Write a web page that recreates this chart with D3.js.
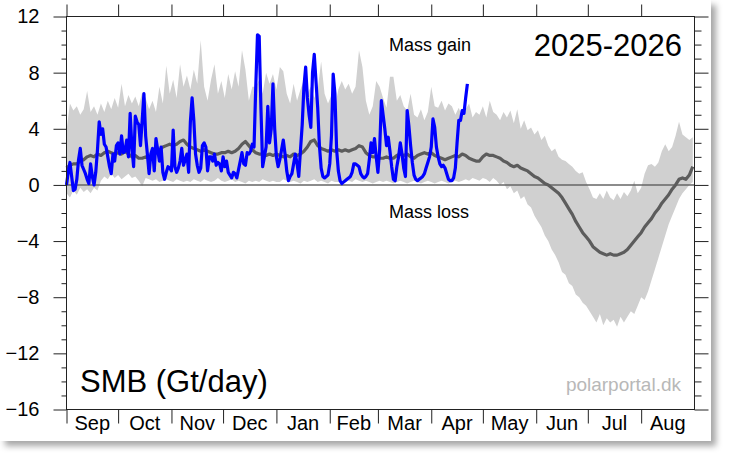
<!DOCTYPE html>
<html>
<head>
<meta charset="utf-8">
<script src="https://cdn.jsdelivr.net/npm/d3@7"></script>
<style>
  body { margin: 0; background: #fff; }
  svg { display: block; font-family: "Liberation Sans", Arial, Helvetica, sans-serif; }
</style>
</head>
<body>
<div id="chart"></div>
<script>
// month labels and y ticks
const months = ["Sep", "Oct", "Nov", "Dec", "Jan", "Feb", "Mar", "Apr", "May", "Jun", "Jul", "Aug"];
const yTicks = [-16, -12, -8, -4, 0, 4, 8, 12];

// climatology, one value every 2 days from 1 Sep (Gt/day)
const climStep = 2;
const bandUpper = [
  3.9, 5.8, 5.3, 5.6, 5.0,  5.4, 6.7, 5.2, 5.6, 5.0,  5.8, 5.2, 6.0, 5.4, 6.2,
  5.5, 7.2, 5.6, 6.4, 5.8,  6.3, 5.6, 6.6, 6.2, 5.4,  6.0, 5.2, 7.0, 5.8, 8.5,
  6.5, 7.5, 6.2, 8.6, 7.0,  7.8, 6.8, 8.2, 7.2, 10.3, 7.0, 6.0, 7.5, 8.6, 6.5,
  7.4, 6.2, 7.9, 6.8, 8.1,  7.0, 9.6, 8.2, 6.0, 7.0,  7.0, 7.5, 6.5, 8.0, 7.2,
  7.9, 6.8, 8.4, 8.1, 6.5,  5.8, 7.2, 6.0, 6.8, 7.5,  6.5, 7.0, 6.2, 6.8, 8.8,
  6.5, 5.8, 6.4, 5.5, 6.8,  7.4, 6.8, 7.2, 6.5, 7.0,  9.6, 8.4, 6.0, 5.0, 5.6,
  7.4, 7.0, 6.2, 5.5, 7.7,  7.7, 6.0, 6.4, 5.6, 5.3,  6.5, 5.0, 4.8, 5.4, 4.6,
  5.2, 7.0, 5.6, 5.5, 6.0,  5.3, 5.8, 5.6, 5.0, 5.5,  4.8, 5.4, 5.8, 4.8, 5.2,
  5.0, 5.6, 4.8, 6.0, 5.2,  5.0, 4.6, 5.2, 4.8, 5.3,  4.4, 5.4, 4.0, 4.6, 3.9,
  4.1, 3.6, 3.9, 3.2, 3.5,  2.8, 2.4, 2.6, 2.0, 1.8,  1.7, 1.5, 1.3, 1.0, 0.8,
  0.9, 0.2, -0.3, -0.9, -1.0, -0.6, -1.0, -0.4, -0.9, -1.1, -0.6, -1.0, -0.5, -0.8, -0.4,
  0.3, -0.6, -0.2, 0.8, 1.4, 1.5, 1.3, 1.6, 2.4, 2.9,  2.4, 2.7, 3.5, 4.5, 3.6,
  3.4, 3.2, 3.4
];
const bandLower = [
  -0.6, -0.9, -0.4, -0.7, -0.2, -0.5, -0.3, -0.6, -0.2, -0.4, 0.3, 0.6, 0.4, 0.8, 0.5,
  0.7, 0.4, 0.6, 0.8, 0.5,  0.6, 0.3, -0.1, 0.5, 0.4,  0.3, 0.4, 0.2, 0.3, 0.4,
  0.3, 0.2, 0.4, 0.3, 0.2,  0.3, 0.2, 0.4, 0.3, 0.2,  0.4, 0.3, 0.2, 0.3, 0.5,
  0.3, 0.2, 0.3, 0.4, 0.2,  0.3, 0.2, 0.1, 0.3, 0.2,  0.3, 0.2, 0.4, 0.3, 0.2,
  0.3, 0.2, 0.2, 0.4, 0.3,  0.2, 0.3, 0.2, 0.1, 0.3,  0.2, 0.3, 0.4, 0.2, 0.3,
  0.2, 0.1, 0.3, 0.2, 0.2,  0.1, 0.2, 0.3, 0.2, 0.4,  0.3, 0.2, 0.3, 0.2, 0.1,
  0.2, 0.3, 0.2, 0.3, 0.2,  0.1, 0.2, 0.3, 0.2, 0.1,  0.2, 0.3, 0.2, 0.1, 0.2,
  0.3, 0.2, 0.1, 0.2, 0.3,  0.2, 0.1, 0.2, 0.3, 0.2,  0.3, 0.4, 0.3, 0.5, 0.4,
  0.3, 0.5, 0.4, 0.2, 0.5,  0.3, 0.0, 0.2, -0.3, -0.1, -0.6, -0.4, -1.0, -0.8, -1.4,
  -1.6, -2.2, -2.6, -3.0, -3.6, -4.0, -4.6, -5.0, -5.5, -6.2, -6.4, -7.0, -7.2, -7.8, -8.0,
  -8.4, -8.6, -9.0, -9.4, -9.8, -9.2, -10.0, -9.5, -9.8, -9.6, -10.1, -9.4, -9.8, -9.4, -9.0,
  -9.2, -8.6, -8.0, -8.2, -7.6, -6.8, -6.0, -5.2, -4.4, -3.6, -2.8, -2.2, -1.6, -1.0, -0.6,
  -0.3, 0.0, 0.2
];
const meanSmb = [
  1.2, 1.4, 1.5, 1.5, 1.7,  1.8, 2.0, 2.1, 2.0, 2.2,  2.1, 2.3, 2.4, 2.3, 2.2,
  2.3, 2.2, 2.4, 2.2, 2.0,  2.1, 1.9, 1.9, 2.0, 1.9,  2.2, 2.3, 2.5, 2.7, 2.8,
  2.9, 2.8, 2.9, 3.1, 3.2,  2.9, 2.7, 2.6, 2.5, 2.4,  2.5, 2.4, 2.3, 2.2, 2.2,
  2.3, 2.3, 2.4, 2.3, 2.4,  2.6, 2.9, 3.1, 2.8, 2.5,  2.3, 2.2, 2.2, 2.1, 2.2,
  2.1, 2.2, 2.1, 2.0, 2.1,  2.0, 2.2, 2.1, 2.2, 2.4,  2.7, 3.1, 3.2, 2.8, 2.6,
  2.5, 2.4, 2.5, 2.4, 2.5,  2.4, 2.5, 2.4, 2.5, 2.6,  2.8, 2.7, 2.3, 2.1, 2.0,
  2.0, 1.9, 1.9, 2.0, 1.9,  1.9, 2.1, 2.2, 2.1, 2.2,  2.0, 1.9, 2.1, 2.2, 2.3,
  2.2, 2.3, 2.1, 2.0, 1.9,  1.8, 1.9, 2.0, 2.1, 2.0,  2.2, 2.1, 1.9, 1.8, 1.7,
  1.7, 2.0, 2.2, 2.1, 2.1,  2.0, 1.9, 1.7, 1.6, 1.4,  1.3, 1.4, 1.2, 1.1, 1.0,
  0.8, 0.6, 0.5, 0.3, 0.1,  0.0, -0.2, -0.4, -0.6, -0.9, -1.3, -1.7, -2.1, -2.6, -3.0,
  -3.4, -3.7, -4.0, -4.4, -4.6, -4.8, -4.9, -5.0, -4.9, -5.0, -5.0, -4.9, -4.8, -4.6, -4.3,
  -4.0, -3.7, -3.4, -3.0, -2.7, -2.4, -2.0, -1.7, -1.3, -1.0, -0.7, -0.3, 0.0, 0.4, 0.5,
  0.4, 0.7, 1.3
];

// 2025-2026 season, daily from 1 Sep (Gt/day)
const smb2025 = [
  0.0, 0.9, 1.6, 0.6, -0.4, -0.3, 0.4, 1.8, 2.6, 1.4,
  1.1, 0.8, 0.4, 0.1, 1.5, 0.6, 0.0, 0.9, 2.5, 4.5,
  3.6, 4.0, 2.9, 2.7, 2.0, 1.3, 0.8, 2.2, 1.7, 2.8,
  3.0, 2.2, 3.5, 2.3, 2.4, 3.2, 2.0, 5.1, 2.7, 1.3,
  4.9, 4.5, 4.3, 2.8, 4.6, 6.5, 3.5, 2.2, 0.8, 2.2,
  2.6, 1.0, 3.3, 2.5, 1.7, 2.7, 0.9, 0.4, 0.9, 1.3,
  1.2, 1.0, 3.9, 1.3, 0.9, 1.2, 1.7, 2.6, 1.4, 1.8,
  2.2, 0.9, 4.5, 6.2, 4.6, 2.2, 1.4, 0.9, 1.2, 2.8,
  3.0, 2.7, 1.0, 2.0, 2.0, 1.7, 2.2, 1.4, 1.6, 1.5,
  1.0, 2.0, 1.3, 1.7, 0.9, 0.7, 0.5, 0.9, 0.8, 0.5,
  1.1, 1.7, 2.3, 1.5, 1.4, 2.3, 2.2, 2.4, 2.9, 2.7,
  7.0, 10.7, 10.6, 5.5, 1.3, 2.0, 2.7, 5.6, 3.0, 4.0,
  7.2, 4.0, 2.0, 1.3, 1.8, 2.5, 3.2, 2.2, 1.0, 0.3,
  0.6, 0.8, 1.5, 2.2, 1.5, 0.6, 2.5, 4.3, 7.0, 8.4,
  6.2, 5.0, 4.1, 8.0, 9.3, 7.4, 5.5, 2.8, 1.2, 0.6,
  0.5, 0.6, 0.7, 1.5, 3.5, 7.9, 6.5, 2.5, 1.0, 0.3,
  0.1, 0.2, 0.3, 0.4, 0.5, 0.6, 0.9, 1.5, 1.5, 1.4,
  1.3, 0.8, 0.6, 0.5, 0.6, 0.8, 1.8, 3.0, 2.3, 3.3,
  2.0, 0.9, 2.5, 6.0, 5.0, 4.0, 2.8, 3.4, 2.4, 1.3,
  0.4, 0.3, 1.3, 2.0, 3.0, 2.2, 1.2, 0.6, 5.3, 4.2,
  2.8, 1.6, 0.7, 0.4, 0.3, 0.4, 0.5, 0.6, 0.8, 1.2,
  1.6, 2.0, 2.7, 4.7, 4.1, 2.7, 2.0, 1.5, 1.3, 1.4,
  1.2, 0.8, 0.4, 0.3, 0.3, 0.5, 1.2, 3.0, 4.6, 4.6,
  5.3, 5.1, 6.2, 7.2
];

const width = 729, height = 460;
const plotLeft = 66.5, plotRight = 694.5, plotTop = 16.5, plotBottom = 409.5;
const start = new Date(2025, 8, 1), end = new Date(2026, 8, 1);
const dayDate = d => d3.timeDay.offset(start, d);

const svg = d3.select('#chart').append('svg')
    .attr('width', width)
    .attr('height', height);

// white card with a soft shadow
const filter = svg.append('defs').append('filter')
    .attr('id', 'shadow').attr('x', '-2%').attr('y', '-2%').attr('width', '106%').attr('height', '108%');
filter.append('feDropShadow')
    .attr('dx', 5).attr('dy', 5).attr('stdDeviation', 3)
    .attr('flood-color', '#000').attr('flood-opacity', 0.35);
svg.append('rect')
    .attr('x', 0).attr('y', 0).attr('width', 711).attr('height', 441)
    .attr('fill', '#fff').attr('filter', 'url(#shadow)');

const x = d3.scaleTime().domain([start, end]).range([plotLeft, plotRight]);
const y = d3.scaleLinear().domain([-16, 12]).range([plotBottom, plotTop]);

// climatology band
const band = bandUpper.map((v, i) => ({ d: dayDate(i * climStep), hi: v, lo: bandLower[i] }));
svg.append('path')
    .datum(band)
    .attr('fill', '#d0d0d0')
    .attr('d', d3.area().x(d => x(d.d)).y0(d => y(d.lo)).y1(d => y(d.hi)));

// zero line
svg.append('line')
    .attr('x1', plotLeft).attr('x2', plotRight)
    .attr('y1', y(0)).attr('y2', y(0))
    .attr('stroke', '#666').attr('stroke-width', 1.5);

// climatological mean
svg.append('path')
    .datum(meanSmb.map((v, i) => ({ d: dayDate(i * climStep), v: v })))
    .attr('fill', 'none')
    .attr('stroke', '#5c5c5c')
    .attr('stroke-width', 3.2)
    .attr('stroke-linejoin', 'round')
    .attr('d', d3.line().x(d => x(d.d)).y(d => y(d.v)));

// current season
svg.append('path')
    .datum(smb2025.map((v, i) => ({ d: dayDate(i), v: v })))
    .attr('fill', 'none')
    .attr('stroke', '#0000ff')
    .attr('stroke-width', 3.2)
    .attr('stroke-linejoin', 'round')
    .attr('d', d3.line().x(d => x(d.d)).y(d => y(d.v)));

// frame
svg.append('rect')
    .attr('x', plotLeft).attr('y', plotTop)
    .attr('width', plotRight - plotLeft).attr('height', plotBottom - plotTop)
    .attr('fill', 'none').attr('stroke', '#222');

const minor = d3.range(-16, 13).filter(v => v % 4 !== 0);
const monthStarts = d3.timeMonth.range(start, end);

function ticksOnly(g) {
    g.select('.domain').remove();
    g.selectAll('line').attr('stroke', '#222');
}

svg.append('g')
    .attr('transform', `translate(${plotLeft},0)`)
    .call(d3.axisLeft(y).tickValues(yTicks).tickSize(13).tickPadding(14).tickFormat(d3.format('d')))
    .call(ticksOnly)
    .call(g => g.selectAll('text').attr('font-size', 20).attr('fill', '#000')
        .attr('font-family', '"Liberation Sans", Arial, sans-serif'));

svg.append('g')
    .attr('transform', `translate(${plotLeft},0)`)
    .call(d3.axisLeft(y).tickValues(minor).tickSize(5).tickFormat(''))
    .call(ticksOnly);

svg.append('g')
    .attr('transform', `translate(${plotRight},0)`)
    .call(d3.axisRight(y).tickValues(yTicks).tickSize(14).tickFormat(''))
    .call(ticksOnly);

svg.append('g')
    .attr('transform', `translate(${plotRight},0)`)
    .call(d3.axisRight(y).tickValues(minor).tickSize(7).tickFormat(''))
    .call(ticksOnly);

svg.append('g')
    .attr('transform', `translate(0,${plotTop})`)
    .call(d3.axisTop(x).tickValues(monthStarts).tickSize(12).tickFormat(''))
    .call(ticksOnly);

svg.append('g')
    .attr('transform', `translate(0,${plotBottom})`)
    .call(d3.axisBottom(x).tickValues(monthStarts).tickSize(14).tickFormat(''))
    .call(ticksOnly);

// month labels centred in each month
svg.append('g').selectAll('text')
    .data(months)
    .enter().append('text')
    .attr('x', (m, i) => (x(monthStarts[i]) + x(i < 11 ? monthStarts[i + 1] : end)) / 2)
    .attr('y', 430)
    .attr('text-anchor', 'middle')
    .attr('font-size', 20)
    .text(m => m);

// annotations
svg.append('text').attr('x', 389).attr('y', 51).attr('font-size', 18).text('Mass gain');
svg.append('text').attr('x', 389).attr('y', 218).attr('font-size', 18).text('Mass loss');
svg.append('text').attr('x', 682).attr('y', 56).attr('font-size', 31).attr('text-anchor', 'end').text('2025-2026');
svg.append('text').attr('x', 80).attr('y', 392).attr('font-size', 31).text('SMB (Gt/day)');
svg.append('text').attr('x', 681).attr('y', 391).attr('font-size', 19).attr('text-anchor', 'end')
    .attr('fill', '#b8b8b8').text('polarportal.dk');
</script>
</body>
</html>
